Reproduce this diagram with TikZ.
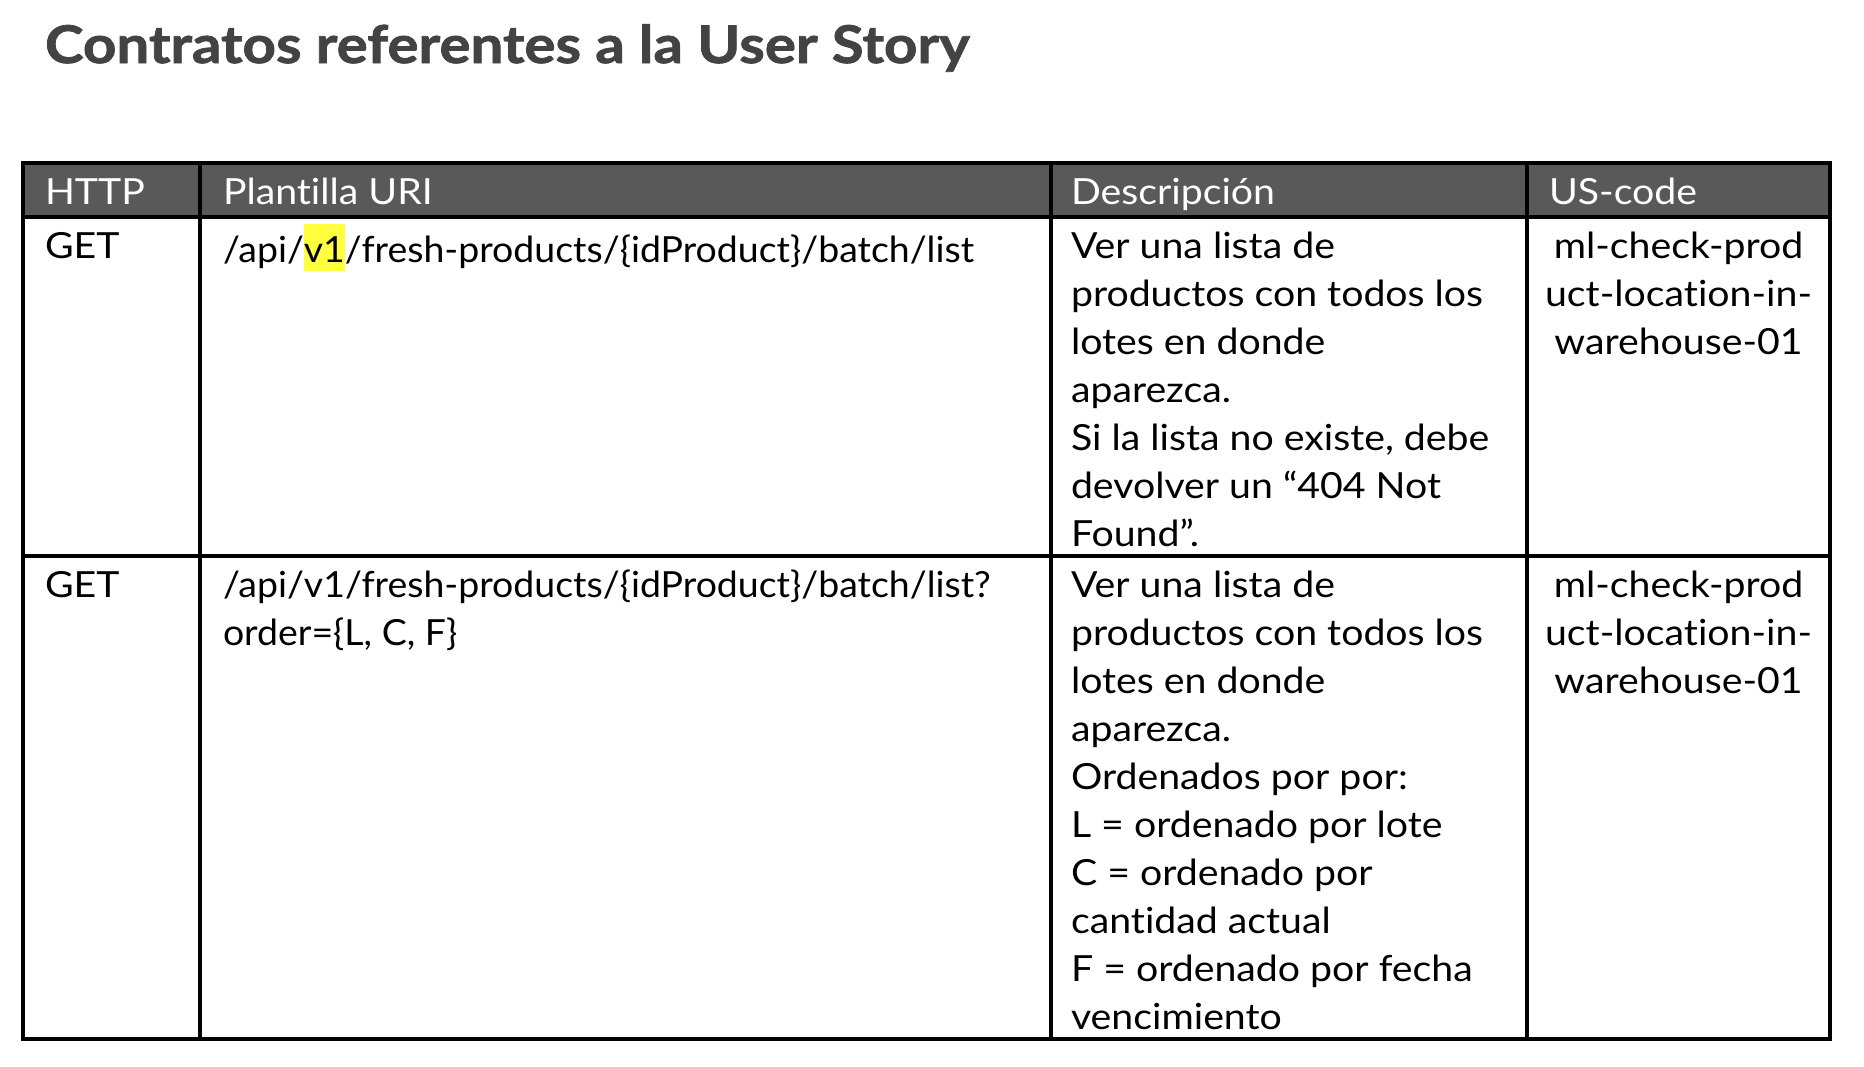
\documentclass[tikz,border=0pt]{standalone}
\usepackage{fontspec}
\setmainfont{Lato}[FakeStretch=1.09,Ligatures=NoCommon]
\newfontfamily\urifont{Lato}[FakeStretch=1.04,Ligatures=NoCommon]
\newfontfamily\titlefont{Lato}[UprightFont={* Bold},FakeStretch=1.12,FakeBold=1.5,Ligatures=NoCommon]
\definecolor{titlegray}{HTML}{434343}
\definecolor{headgray}{HTML}{595959}
\definecolor{hlyellow}{HTML}{FFFF40}
\newcommand{\cellfont}{\fontsize{36}{48}\selectfont}
\newcommand{\hlmark}[1]{{\setlength{\fboxsep}{0pt}\colorbox{hlyellow}{\rule[-9pt]{0pt}{47pt}#1}}}

\begin{document}
\begin{tikzpicture}[x=1pt,y=-1pt]
\tikzstyle{every node}=[inner sep=0pt,outer sep=0pt];
\tikzstyle{headtext}=[anchor=base west,text=white,font=\cellfont];
\tikzstyle{celltext}=[anchor=north west,align=left,font=\cellfont];
\tikzstyle{uritext}=[anchor=north west,align=left,font=\cellfont\urifont];
\tikzstyle{codetext}=[anchor=north,align=center,font=\cellfont];
\tikzstyle{grid}=[line width=3.5pt,black];
\useasboundingbox (0,0) rectangle (1864,1066);

% title
\node[anchor=base west,text=titlegray,font=\fontsize{52}{60}\titlefont] (title) at (45,63) {Contratos referentes a la User Story};

% header row
\fill[headgray] (23,163) rectangle (1830,217);
\node[headtext] (hhttp) at (45,204) {HTTP};
\node[headtext] (huri) at (223,204) {Plantilla URI};
\node[headtext] (hdesc) at (1071,204) {Descripción};
\node[headtext] (hcode) at (1549,204) {US-code};

% first row
\node[celltext] (get1) at (45,224.4) {\strut GET};
\node[uritext] (uri1) at (223,224.4) {\strut/api/\hlmark{v1}/fresh-products/\{idProduct\}/batch/list};
\node[celltext] (desc1) at (1071,224.4) {\strut Ver una lista de\\productos con todos los\\lotes en donde\\aparezca.\\Si la lista no existe, debe\\devolver un “404 Not\\Found”.};
\node[codetext] (code1) at (1678.5,224.4) {\strut ml-check-prod\\uct-location-in-\\warehouse-01};

% second row
\node[celltext] (get2) at (45,563.4) {\strut GET};
\node[uritext] (uri2) at (223,563.4) {\strut/api/v1/fresh-products/\{idProduct\}/batch/list?\\order=\{L, C, F\}};
\node[celltext] (desc2) at (1071,563.4) {\strut Ver una lista de\\productos con todos los\\lotes en donde\\aparezca.\\Ordenados por por:\\L = ordenado por lote\\C = ordenado por\\cantidad actual\\F = ordenado por fecha\\vencimiento};
\node[codetext] (code2) at (1678.5,563.4) {\strut ml-check-prod\\uct-location-in-\\warehouse-01};

% grid lines
\draw[grid] (23,163) rectangle (1830,1039);
\draw[grid] (23,217) -- (1830,217);
\draw[grid] (23,556) -- (1830,556);
\foreach \cx in {200,1051,1527}
	\draw[grid] (\cx,163) -- (\cx,1039);
\end{tikzpicture}
\end{document}
